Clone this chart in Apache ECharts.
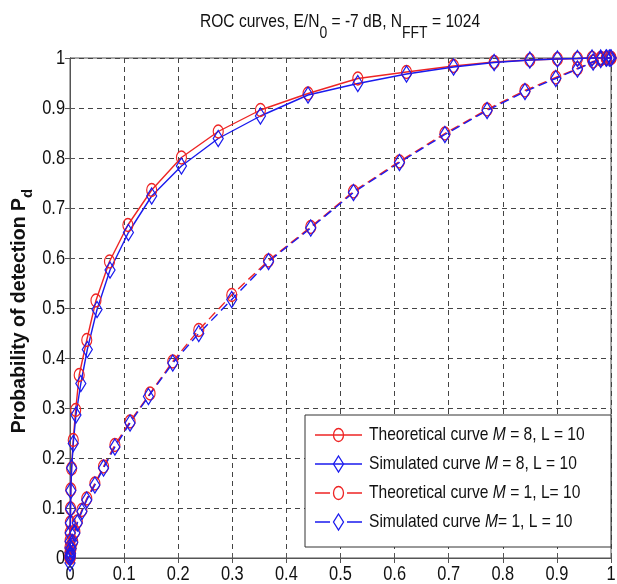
<!DOCTYPE html>
<html>
<head>
<meta charset="utf-8">
<script src="https://cdn.jsdelivr.net/npm/echarts@6/dist/echarts.min.js"></script>
<style>
  html, body { margin: 0; padding: 0; background: #fff; }
  #chart { width: 617px; height: 584px; }
</style>
</head>
<body>
<div id="chart"></div>
<script>
// ROC curves: probability of false alarm (x) vs probability of detection (y)
const pfaTheory8 = [0, 0, 0, 0, 0, 0.0002, 0.0004, 0.0007, 0.001, 0.0015, 0.003, 0.006, 0.0105, 0.017, 0.031, 0.048, 0.073, 0.107, 0.151, 0.206, 0.274, 0.352, 0.44, 0.532, 0.622, 0.709, 0.784, 0.85, 0.901, 0.938, 0.965, 0.981, 0.991, 0.997, 1];
const pdTheory8  = [0, 0.002, 0.006, 0.012, 0.022, 0.035, 0.051, 0.071, 0.099, 0.137, 0.179, 0.236, 0.296, 0.366, 0.436, 0.515, 0.593, 0.666, 0.736, 0.801, 0.853, 0.896, 0.929, 0.959, 0.972, 0.984, 0.992, 0.996, 0.998, 0.999, 1, 1, 1, 1, 1];

const pfaSim8 = [0, 0, 0, 0, 0, 0.0002, 0.0004, 0.0007, 0.001, 0.0015, 0.003, 0.006, 0.011, 0.02, 0.032, 0.05, 0.074, 0.108, 0.151, 0.206, 0.274, 0.352, 0.44, 0.532, 0.622, 0.709, 0.784, 0.85, 0.901, 0.938, 0.965, 0.981, 0.991, 0.997, 1];
const pdSim8  = [-0.01, 0.002, 0.005, 0.011, 0.02, 0.033, 0.05, 0.07, 0.098, 0.135, 0.18, 0.229, 0.286, 0.349, 0.417, 0.497, 0.576, 0.651, 0.724, 0.784, 0.839, 0.884, 0.926, 0.949, 0.968, 0.982, 0.991, 0.996, 0.998, 0.999, 1, 1, 1, 1, 1];

const pfaTheory1 = [0, 0.0005, 0.001, 0.002, 0.005, 0.009, 0.0135, 0.022, 0.031, 0.046, 0.062, 0.083, 0.111, 0.148, 0.19, 0.238, 0.299, 0.367, 0.445, 0.524, 0.609, 0.693, 0.771, 0.841, 0.898, 0.938, 0.967, 0.981, 0.992, 1];
const pdTheory1  = [0, 0.005, 0.01, 0.02, 0.033, 0.053, 0.073, 0.096, 0.119, 0.149, 0.183, 0.226, 0.273, 0.329, 0.393, 0.456, 0.526, 0.595, 0.662, 0.733, 0.793, 0.849, 0.897, 0.935, 0.961, 0.979, 0.993, 0.997, 1, 1];

const pfaSim1 = [0, 0.0005, 0.001, 0.002, 0.005, 0.009, 0.0135, 0.022, 0.031, 0.046, 0.062, 0.083, 0.111, 0.145, 0.19, 0.238, 0.299, 0.367, 0.445, 0.524, 0.609, 0.693, 0.771, 0.841, 0.898, 0.938, 0.967, 0.981, 0.992, 1];
const pdSim1  = [0, 0.004, 0.009, 0.019, 0.031, 0.05, 0.07, 0.093, 0.116, 0.146, 0.18, 0.222, 0.27, 0.323, 0.39, 0.449, 0.517, 0.593, 0.66, 0.731, 0.791, 0.847, 0.895, 0.933, 0.959, 0.978, 0.992, 0.997, 1, 1];

const seriesNames = [
  'Theoretical curve M = 8, L = 10',
  'Simulated curve M = 8, L = 10',
  'Theoretical curve M = 1, L= 10',
  'Simulated curve M= 1, L = 10'
];

// tick values shared by both axes
const axisTicks = [0, 0.1, 0.2, 0.3, 0.4, 0.5, 0.6, 0.7, 0.8, 0.9, 1];
const tickLabels = ['0', '0.1', '0.2', '0.3', '0.4', '0.5', '0.6', '0.7', '0.8', '0.9', '1'];

const SANS = "'Liberation Sans', Arial, sans-serif";
const RED = '#ee2424';
const BLUE = '#1a1aee';
const NARROW = 0.82;   // horizontal squeeze for the condensed lettering

const seriesLook = [
  { color: RED,  symbol: 'circle',  size: [10, 13], dashed: false },
  { color: BLUE, symbol: 'diamond', size: [10, 16], dashed: false },
  { color: RED,  symbol: 'circle',  size: [10, 13], dashed: true },
  { color: BLUE, symbol: 'diamond', size: [10, 16], dashed: true }
];
const seriesX = [pfaTheory8, pfaSim8, pfaTheory1, pfaSim1];
const seriesY = [pdTheory8, pdSim8, pdTheory1, pdSim1];

function pairs(xs, ys) {
  return xs.map((x, i) => [x, ys[i]]);
}

const series = seriesNames.map((name, k) => {
  const look = seriesLook[k];
  return {
    name: name,
    type: 'line',
    data: pairs(seriesX[k], seriesY[k]),
    symbol: look.symbol,
    symbolSize: look.size,
    showSymbol: true,
    clip: false,
    lineStyle: { color: look.color, width: 1.4, type: look.dashed ? [9, 5] : 'solid' },
    itemStyle: { color: 'rgba(0,0,0,0)', borderColor: look.color, borderWidth: 1.3 },
    emphasis: { disabled: true },
    z: 3
  };
});

// Legend box drawn as graphic elements (squeezed lettering like the title)
const LEG = { left: 305, top: 415, right: 611, bottom: 547, firstRow: 435, rowStep: 29, lineL: 315, lineR: 362, textX: 369 };
const LZ = 50;
const legendChildren = [{
  type: 'rect',
  z: LZ,
  shape: { x: LEG.left, y: LEG.top, width: LEG.right - LEG.left, height: LEG.bottom - LEG.top },
  style: { fill: '#fff', stroke: '#333', lineWidth: 1 }
}];
seriesNames.forEach((name, i) => {
  const look = seriesLook[i];
  const cy = LEG.firstRow + i * LEG.rowStep;
  const cx = (LEG.lineL + LEG.lineR) / 2;
  legendChildren.push({
    type: 'line',
    z: LZ + 1,
    shape: { x1: LEG.lineL, y1: cy, x2: LEG.lineR, y2: cy },
    style: { stroke: look.color, lineWidth: 1.4, lineDash: look.dashed ? [15, 17] : null }
  });
  if (look.symbol === 'circle') {
    legendChildren.push({
      type: 'ellipse',
      z: LZ + 2,
      shape: { cx: cx, cy: cy, rx: 5, ry: 6.5 },
      style: { fill: 'none', stroke: look.color, lineWidth: 1.3 }
    });
  } else {
    legendChildren.push({
      type: 'polygon',
      z: LZ + 2,
      shape: { points: [[cx, cy - 8], [cx + 5, cy], [cx, cy + 8], [cx - 5, cy]] },
      style: { fill: 'none', stroke: look.color, lineWidth: 1.3 }
    });
  }
  legendChildren.push({
    type: 'text',
    z: LZ + 2,
    x: LEG.textX,
    y: cy,
    scaleX: NARROW,
    style: {
      text: name.replace('M', '{i|M}'),
      fill: '#111',
      fontFamily: SANS,
      fontSize: 19,
      verticalAlign: 'middle',
      align: 'left',
      rich: {
        i: { fontFamily: SANS, fontSize: 19, fontStyle: 'italic', fill: '#111' }
      }
    }
  });
});

const chart = echarts.init(document.getElementById('chart'), null, { renderer: 'canvas' });

const gridLine = { show: true, lineStyle: { color: '#444', width: 1, type: [5, 4] } };
const boxLine = { show: true, lineStyle: { color: '#555', width: 1 } };
const innerTick = { show: true, inside: true, length: 5, lineStyle: { color: '#555' } };

chart.setOption({
  animation: false,
  backgroundColor: '#fff',
  grid: {
    left: 70, right: 6, top: 58, bottom: 26,
    outerBoundsMode: 'none',
    containLabel: false,
    show: true, borderColor: '#555', borderWidth: 1
  },
  xAxis: [
    {
      type: 'value', min: 0, max: 1, interval: 0.1,
      axisLine: boxLine,
      axisTick: innerTick,
      axisLabel: { show: false },
      splitLine: gridLine
    },
    {
      type: 'value', min: 0, max: 1, interval: 0.1, position: 'top',
      axisLine: boxLine, axisTick: innerTick,
      axisLabel: { show: false }, splitLine: { show: false }
    }
  ],
  yAxis: [
    {
      type: 'value', min: 0, max: 1, interval: 0.1,
      axisLine: boxLine,
      axisTick: innerTick,
      axisLabel: { show: false },
      splitLine: gridLine,
      name: '{b|Probability of detection P}{d|d}',
      nameLocation: 'middle',
      nameRotate: 90,
      nameGap: 40,
      nameTextStyle: {
        padding: [0, 6, 0, 0],
        rich: {
          b: { fontFamily: SANS, fontWeight: 'bold', fontSize: 19.5, color: '#111', verticalAlign: 'top', lineHeight: 20 },
          d: { fontFamily: SANS, fontWeight: 'bold', fontSize: 15, color: '#111', verticalAlign: 'top', lineHeight: 15, padding: [10, 0, 0, 0] }
        }
      }
    },
    {
      type: 'value', min: 0, max: 1, interval: 0.1, position: 'right',
      axisLine: boxLine, axisTick: innerTick,
      axisLabel: { show: false }, splitLine: { show: false }
    }
  ],
  graphic: [
    {
      id: 'title',
      type: 'text',
      x: 340,
      y: 12,
      scaleX: NARROW,
      silent: true,
      style: {
        text: '{a|ROC curves, E/N}{s|0}{a| = -7 dB, N}{s|FFT}{a| = 1024}',
        align: 'center',
        verticalAlign: 'top',
        fill: '#111',
        fontFamily: SANS,
        fontSize: 19,
        rich: {
          a: { fontFamily: SANS, fontSize: 19, fill: '#111', verticalAlign: 'top', lineHeight: 20 },
          s: { fontFamily: SANS, fontSize: 17, fill: '#111', verticalAlign: 'top', lineHeight: 18, padding: [13, 0, 0, 0] }
        }
      }
    },
    {
      id: 'legendBox',
      type: 'group',
      silent: true,
      z: LZ,
      children: legendChildren
    }
  ],
  series: series
});

// Tick labels in the same condensed lettering, placed through the axes' own scales
const tickElements = [];
const yBottom = chart.convertToPixel({ yAxisIndex: 0 }, 0);
const xLeft = chart.convertToPixel({ xAxisIndex: 0 }, 0);
axisTicks.forEach((v, i) => {
  tickElements.push({
    id: 'xtick' + i,
    type: 'text',
    silent: true,
    x: chart.convertToPixel({ xAxisIndex: 0 }, v),
    y: yBottom + 6,
    scaleX: NARROW,
    style: { text: tickLabels[i], fontFamily: SANS, fontSize: 20, fill: '#111', align: 'center', verticalAlign: 'top' }
  });
  tickElements.push({
    id: 'ytick' + i,
    type: 'text',
    silent: true,
    x: xLeft - 5,
    y: chart.convertToPixel({ yAxisIndex: 0 }, v),
    scaleX: NARROW,
    style: { text: tickLabels[i], fontFamily: SANS, fontSize: 20, fill: '#111', align: 'right', verticalAlign: 'middle' }
  });
});
chart.setOption({ graphic: tickElements });
</script>
</body>
</html>
